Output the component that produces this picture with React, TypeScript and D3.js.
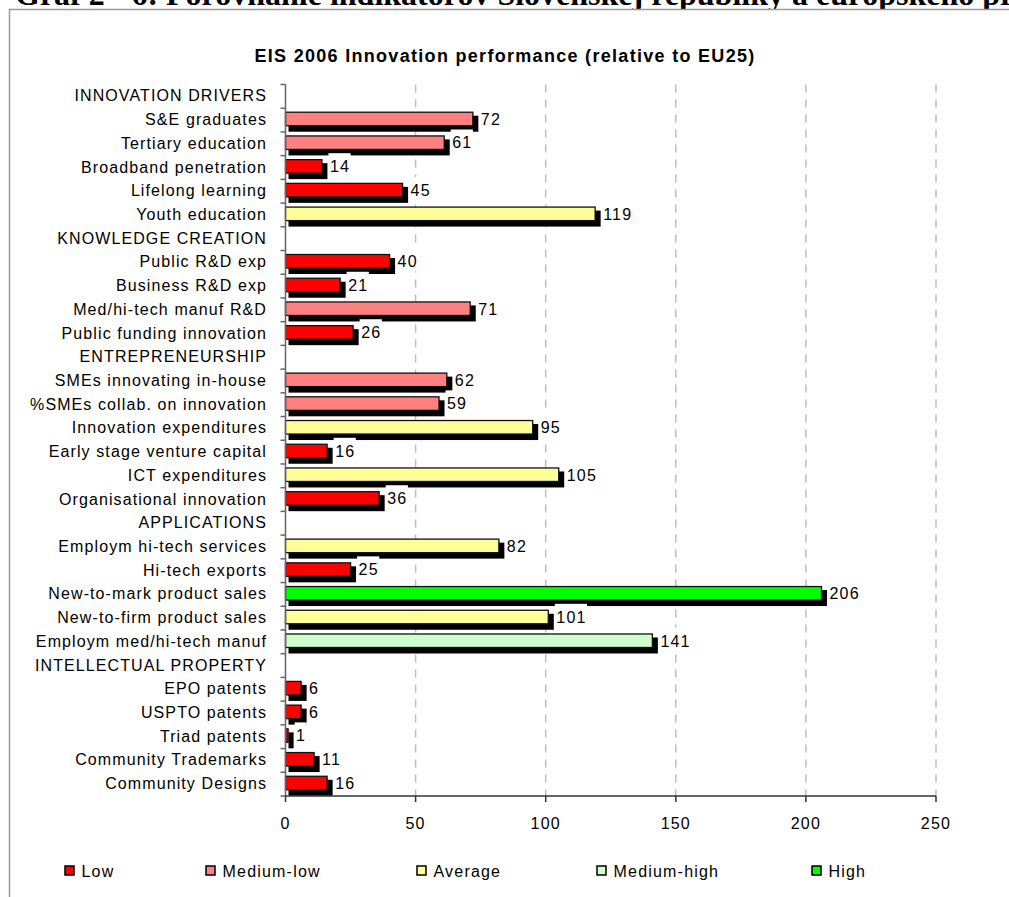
import React from 'react';
import * as d3 from 'd3';

const categories = [
  'INNOVATION DRIVERS', 'S&E graduates', 'Tertiary education', 'Broadband penetration', 'Lifelong learning', 'Youth education',
  'KNOWLEDGE CREATION', 'Public R&D exp', 'Business R&D exp', 'Med/hi-tech manuf R&D', 'Public funding innovation',
  'ENTREPRENEURSHIP', 'SMEs innovating in-house', '%SMEs collab. on innovation', 'Innovation expenditures', 'Early stage venture capital', 'ICT expenditures', 'Organisational innovation',
  'APPLICATIONS', 'Employm hi-tech services', 'Hi-tech exports', 'New-to-mark product sales', 'New-to-firm product sales', 'Employm med/hi-tech manuf',
  'INTELLECTUAL PROPERTY', 'EPO patents', 'USPTO patents', 'Triad patents', 'Community Trademarks', 'Community Designs',
];

const values: (number | null)[] = [
  null, 72, 61, 14, 45, 119,
  null, 40, 21, 71, 26,
  null, 62, 59, 95, 16, 105, 36,
  null, 82, 25, 206, 101, 141,
  null, 6, 6, 1, 11, 16,
];

const levels: (string | null)[] = [
  null, 'Medium-low', 'Medium-low', 'Low', 'Low', 'Average',
  null, 'Low', 'Low', 'Medium-low', 'Low',
  null, 'Medium-low', 'Medium-low', 'Average', 'Low', 'Average', 'Low',
  null, 'Average', 'Low', 'High', 'Average', 'Medium-high',
  null, 'Low', 'Low', 'Low', 'Low', 'Low',
];

const legendLabels = ['Low', 'Medium-low', 'Average', 'Medium-high', 'High'];
const legendColors = ['#FF0000', '#FF8080', '#FFFF99', '#CCFFCC', '#00FF00'];
const legendX = [65, 206, 417, 597, 812];
const xTicks = [0, 50, 100, 150, 200, 250];

const FONT = '"Liberation Sans", Arial, sans-serif';

export default function App() {
  const W = 1009, H = 897;
  const x = d3.scaleLinear().domain([0, 250]).range([285.5, 936]);
  const y = d3.scaleBand<string>().domain(categories).range([84.5, 796]);
  const color = d3.scaleOrdinal<string, string>().domain(legendLabels).range(legendColors);
  const bw = y.bandwidth();
  const gridTicks = xTicks.filter((t) => t > 0);

  return (
    <svg width={W} height={H} style={{ position: 'absolute', left: 0, top: 0, background: '#fff' }}>
      <text x={15} y={5} fontFamily='"Liberation Serif", "Times New Roman", serif' fontWeight="bold" fontSize={32} fill="#000">
        Graf 2 - 6: Porovnanie indikátorov Slovenskej republiky a európskeho priemeru
      </text>
      <rect x={9.5} y={9.5} width={1100} height={1000} fill="#fff" stroke="#9a9a9a" strokeWidth={1.5} />
      <text x={505} y={62} textAnchor="middle" fontFamily={FONT} fontWeight="bold" fontSize={18} letterSpacing={1.3} fill="#000">
        EIS 2006 Innovation performance (relative to EU25)
      </text>

      {gridTicks.map((t) => (
        <line key={'g' + t} x1={x(t)} x2={x(t)} y1={84.5} y2={796} stroke="#bdbdbd" strokeWidth={1.5} strokeDasharray="8,7" />
      ))}

      {categories.map((c, i) => {
        const v = values[i];
        if (v === null) return null;
        const top = (y(c) as number) + 4;
        const h = 13.5;
        const x0 = x(0);
        const x1 = x(v);
        return (
          <g key={'b' + i}>
            <rect x={x0 + 3} y={top + 3.5} width={x1 - x0 + 2.5} height={h + 2.5} fill="#000" />
            <rect x={x0} y={top} width={x1 - x0} height={h} fill={color(levels[i] as string)} stroke="#111" strokeWidth={1.3} />
          </g>
        );
      })}

      {categories.map((c, i) => {
        const v = values[i];
        if (v === null) return null;
        const top = (y(c) as number) + 4;
        const base = top + 6.75 + 5.8;
        const tx = x(v) + 8;
        const label = String(v);
        const tw = label.length * (0.556 * 16 + 1.2);
        return (
          <g key={'l' + i}>
            <rect x={tx - 1.5} y={base - 19} width={tw + 2} height={23} fill="#fff" />
            <text x={tx} y={base} fontFamily={FONT} fontSize={16} letterSpacing={1.2} fill="#000">{label}</text>
          </g>
        );
      })}

      {/* y axis */}
      <line x1={285.5} x2={285.5} y1={84.5} y2={796} stroke="#666" strokeWidth={1.5} />
      {d3.range(categories.length + 1).map((k) => {
        const yy = 84.5 + k * bw;
        return <line key={'yt' + k} x1={280.5} x2={285.5} y1={yy} y2={yy} stroke="#666" strokeWidth={1.5} />;
      })}
      {categories.map((c) => (
        <text key={'c' + c} x={267} y={(y(c) as number) + bw / 2 + 5} textAnchor="end" fontFamily={FONT} fontSize={16} letterSpacing={1.1} fill="#000">
          {c}
        </text>
      ))}

      {/* x axis */}
      <line x1={285.5} x2={936} y1={796} y2={796} stroke="#333" strokeWidth={1.5} />
      {xTicks.map((t) => (
        <g key={'xt' + t}>
          <line x1={x(t)} x2={x(t)} y1={796} y2={802} stroke="#333" strokeWidth={1.5} />
          <text x={x(t)} y={828.5} textAnchor="middle" fontFamily={FONT} fontSize={16} letterSpacing={1.2} fill="#000">{t}</text>
        </g>
      ))}

      {/* legend */}
      {legendLabels.map((l, i) => (
        <g key={'lg' + l}>
          <rect x={legendX[i]} y={866} width={9} height={9} fill={legendColors[i]} stroke="#000" strokeWidth={1.5} />
          <text x={legendX[i] + 16.5} y={876.5} fontFamily={FONT} fontSize={16} letterSpacing={1.2} fill="#000">{l}</text>
        </g>
      ))}
    </svg>
  );
}
